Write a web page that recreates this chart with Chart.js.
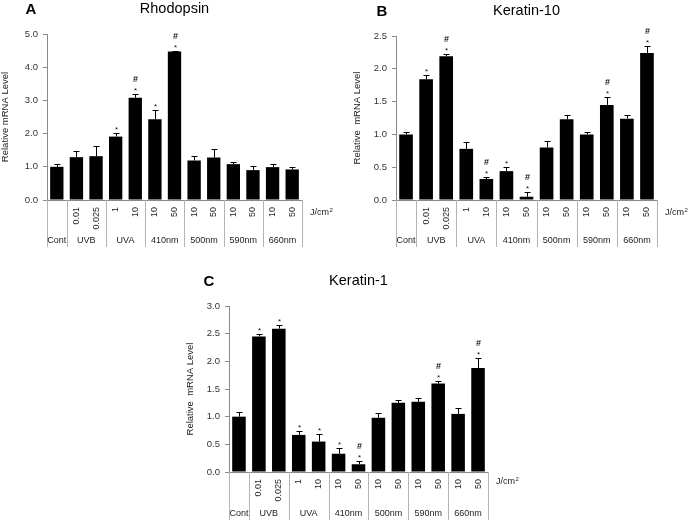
<!DOCTYPE html>
<html>
<head>
<meta charset="utf-8">
<script src="https://cdn.jsdelivr.net/npm/chart.js@4.4.1/dist/chart.umd.min.js"></script>
<style>
  html, body { margin: 0; padding: 0; background: #fff; }
  #wrap { position: relative; width: 689px; height: 523px; }
  canvas { position: absolute; }
</style>
</head>
<body>
<div id="wrap">
  <canvas id="chartA" width="345" height="250" style="left:0;top:0"></canvas>
  <canvas id="chartB" width="344" height="250" style="left:345px;top:0"></canvas>
  <canvas id="chartC" width="350" height="263" style="left:170px;top:260px"></canvas>
</div>
<script>
// categories (dose under each bar) and treatment groups
const doses = ["", "0.01", "0.025", "1", "10", "10", "50", "10", "50", "10", "50", "10", "50"];
const groups = ["Cont", "UVB", "UVA", "410nm", "500nm", "590nm", "660nm"];
const groupSizes = [1, 2, 2, 2, 2, 2, 2];

// A - Rhodopsin
const rhodopsin = [1.0, 1.29, 1.32, 1.91, 3.08, 2.43, 4.47, 1.19, 1.28, 1.08, 0.90, 0.99, 0.92];
const rhodopsinErr = [0.09, 0.2, 0.3, 0.11, 0.11, 0.27, 0.03, 0.14, 0.27, 0.05, 0.11, 0.09, 0.08];
const rhodopsinSig = ["", "", "", "*", "*#", "*", "*#", "", "", "", "", "", ""];

// B - Keratin-10
const keratin10 = [1.0, 1.84, 2.19, 0.78, 0.32, 0.44, 0.05, 0.80, 1.23, 1.00, 1.45, 1.24, 2.24];
const keratin10Err = [0.03, 0.06, 0.03, 0.1, 0.03, 0.06, 0.07, 0.1, 0.06, 0.03, 0.12, 0.06, 0.1];
const keratin10Sig = ["", "*", "*#", "", "*#", "*", "*#", "", "", "", "*#", "", "*#"];

// C - Keratin-1
const keratin1 = [1.0, 2.45, 2.59, 0.67, 0.55, 0.33, 0.14, 0.98, 1.25, 1.27, 1.60, 1.05, 1.88];
const keratin1Err = [0.08, 0.04, 0.07, 0.08, 0.14, 0.1, 0.06, 0.09, 0.05, 0.06, 0.05, 0.11, 0.18];
const keratin1Sig = ["", "*", "*", "*", "*", "*", "*#", "", "", "", "*#", "", "*#"];

const FONT = "'Liberation Sans', Arial, sans-serif";
const AXIS_GREY = "#8a8a8a";
const SEP_GREY = "#b4b4b4";

// draws error bars, significance marks, the category table under the axis, title and panel letter
const decoPlugin = {
  id: "deco",
  afterDraw(chart) {
    const o = chart.options.plugins.deco;
    const { ctx, chartArea } = chart;
    const x = chart.scales.x, y = chart.scales.y;
    const meta = chart.getDatasetMeta(0);
    ctx.save();

    // error bars + marks
    ctx.strokeStyle = "#000";
    ctx.lineWidth = 1;
    ctx.fillStyle = "#111";
    ctx.textAlign = "center";
    meta.data.forEach((bar, i) => {
      const v = o.values[i], e = o.errors[i];
      const yBar = y.getPixelForValue(v);
      const yTop = y.getPixelForValue(v + e);
      const bx = Math.round(bar.x) + 0.5;
      ctx.beginPath();
      ctx.moveTo(bx, yBar);
      ctx.lineTo(bx, Math.round(yTop) + 0.5);
      ctx.moveTo(bx - 3, Math.round(yTop) + 0.5);
      ctx.lineTo(bx + 3, Math.round(yTop) + 0.5);
      ctx.stroke();
      const s = o.sig[i];
      if (s.includes("*")) {
        ctx.font = "8px " + FONT;
        ctx.textBaseline = "alphabetic";
        ctx.fillText("*", bx, yTop - 1);
      }
      if (s.includes("#")) {
        ctx.font = "bold 9px " + FONT;
        ctx.textBaseline = "alphabetic";
        ctx.fillText("#", bx, yTop - 12);
      }
    });

    // category table
    const step = x.getPixelForValue(1) - x.getPixelForValue(0);
    const bottom = chartArea.bottom;
    const tableBottom = chart.height - 3;
    ctx.strokeStyle = SEP_GREY;
    ctx.beginPath();
    let idx = 0;
    const edges = [];
    groupSizes.forEach((n) => {
      edges.push(x.getPixelForValue(idx) - step / 2);
      idx += n;
    });
    edges.push(x.getPixelForValue(idx - 1) + step / 2);
    edges.forEach((ex) => {
      const px = Math.round(ex) + 0.5;
      ctx.moveTo(px, bottom);
      ctx.lineTo(px, tableBottom);
    });
    ctx.stroke();

    ctx.fillStyle = "#222";
    ctx.font = "9px " + FONT;
    // group names
    ctx.textAlign = "center";
    ctx.textBaseline = "middle";
    groups.forEach((g, k) => {
      ctx.fillText(g, (edges[k] + edges[k + 1]) / 2, bottom + o.groupY);
    });
    // rotated doses
    doses.forEach((d, i) => {
      if (!d) return;
      ctx.save();
      ctx.translate(x.getPixelForValue(i), bottom + 7);
      ctx.rotate(-Math.PI / 2);
      ctx.textAlign = "right";
      ctx.textBaseline = "middle";
      ctx.fillText(d, 0, 0);
      ctx.restore();
    });
    // unit
    ctx.textAlign = "left";
    const ux = chartArea.right + 8, uy = bottom + o.unitY;
    ctx.font = "9px " + FONT;
    ctx.fillText("J/cm", ux, uy);
    const w = ctx.measureText("J/cm").width;
    ctx.font = "6px " + FONT;
    ctx.fillText("2", ux + w + 0.5, uy - 3);

    // title and panel letter
    ctx.fillStyle = "#000";
    ctx.textAlign = "center";
    ctx.font = "14.5px " + FONT;
    ctx.fillText(o.title, (chartArea.left + chartArea.right) / 2, chartArea.top - 25);
    ctx.font = "bold 15px " + FONT;
    ctx.fillText(o.letter, o.letterX, chartArea.top - 24);
    ctx.restore();
  }
};

function makePanel(id, p) {
  const c = document.getElementById(id);
  const W = c.width, H = c.height;
  return new Chart(c, {
    type: "bar",
    data: {
      labels: doses.map((d, i) => i + ":" + d),
      datasets: [{
        data: p.values,
        backgroundColor: "#000",
        borderWidth: 0,
        barPercentage: 0.68,
        categoryPercentage: 1.0
      }]
    },
    options: {
      responsive: false,
      animation: false,
      devicePixelRatio: 1,
      layout: { padding: { left: 0, right: W - p.right, top: p.top, bottom: 0 } },
      plugins: {
        legend: { display: false },
        tooltip: { enabled: false },
        deco: {
          values: p.values, errors: p.errors, sig: p.sig,
          title: p.title, letter: p.letter, letterX: p.letterX,
          groupY: p.groupY, unitY: p.unitY
        }
      },
      scales: {
        x: {
          offset: true,
          ticks: { display: false },
          grid: { display: false },
          border: { color: AXIS_GREY, width: 1 },
          afterFit: (s) => { s.height = H - p.bottom; }
        },
        y: {
          min: 0,
          max: p.yMax,
          ticks: {
            stepSize: p.yStep,
            color: "#333",
            padding: 5,
            font: { family: FONT, size: 9.5 },
            callback: (v) => Number(v).toFixed(1)
          },
          grid: { drawOnChartArea: false, drawTicks: true, tickLength: 4, color: AXIS_GREY },
          border: { color: AXIS_GREY, width: 1 },
          title: {
            display: true,
            text: p.yLabel,
            color: "#222",
            font: { family: FONT, size: 9.5 },
            padding: { top: p.yTitlePad, bottom: 0 }
          },
          afterFit: (s) => { s.width = p.left; }
        }
      }
    },
    plugins: [decoPlugin]
  });
}

makePanel("chartA", {
  values: rhodopsin, errors: rhodopsinErr, sig: rhodopsinSig,
  title: "Rhodopsin", letter: "A", letterX: 31,
  yMax: 5, yStep: 1, yLabel: "Relative mRNA Level", yTitlePad: 0,
  left: 47, right: 302, top: 34, bottom: 200, groupY: 41, unitY: 13
});
makePanel("chartB", {
  values: keratin10, errors: keratin10Err, sig: keratin10Sig,
  title: "Keratin-10", letter: "B", letterX: 37,
  yMax: 2.5, yStep: 0.5, yLabel: "Relative  mRNA Level", yTitlePad: 7,
  left: 51, right: 312, top: 36, bottom: 200, groupY: 41, unitY: 13
});
makePanel("chartC", {
  values: keratin1, errors: keratin1Err, sig: keratin1Sig,
  title: "Keratin-1", letter: "C", letterX: 39,
  yMax: 3, yStep: 0.5, yLabel: "Relative  mRNA Level", yTitlePad: 15,
  left: 59, right: 318, top: 46, bottom: 212, groupY: 42, unitY: 10
});
</script>
</body>
</html>
